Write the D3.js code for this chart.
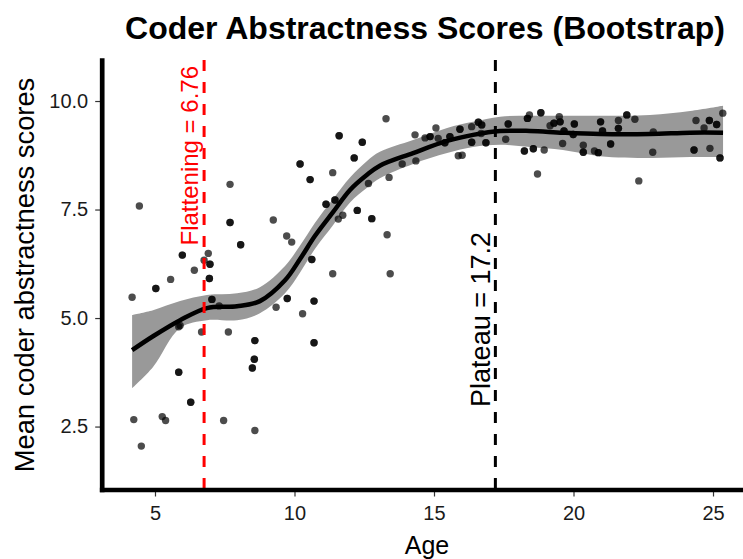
<!DOCTYPE html>
<html>
<head>
<meta charset="utf-8">
<script src="https://cdn.jsdelivr.net/npm/d3@7"></script>
<style>
  body { margin: 0; background: #fff; }
  text { font-family: "Liberation Sans", Arial, Helvetica, sans-serif; }
</style>
</head>
<body>
<div id="chart"></div>
<script>
// observed points (age, mean score); weight 2 = bootstrap duplicate drawn twice
const ages = [4.44, 7.69, 10.20, 10.56, 7.69, 8.07, 9.24, 9.72, 9.90, 10.62, 5.98, 6.91, 6.76, 6.97, 6.41, 5.56, 6.95, 5.03, 4.18, 7.04,
  7.30, 5.90, 5.85, 6.67, 7.63, 8.58, 8.56, 8.49, 5.85, 6.28, 4.24, 5.26, 5.38, 7.46, 8.58, 4.51, 9.34, 9.74, 10.29, 10.70,
  10.70, 13.28, 11.60, 12.43, 12.14, 11.37, 11.13, 11.45, 11.73, 11.57, 12.25, 12.77, 12.65, 13.39, 13.32, 13.43, 11.37, 13.86, 14.35, 14.32,
  14.68, 14.86, 15.07, 15.15, 15.57, 15.39, 15.93, 15.87, 16.01, 16.35, 16.59, 16.71, 16.35, 16.86, 16.69, 17.57, 17.66, 18.42, 18.35, 18.83,
  18.24, 18.56, 18.95, 18.71, 19.16, 19.30, 19.49, 19.52, 19.66, 19.61, 20.03, 19.99, 20.35, 20.35, 20.75, 20.89, 20.97, 21.04, 21.33, 21.61,
  21.61, 21.91, 22.20, 22.34, 22.86, 22.84, 24.32, 24.39, 24.68, 24.87, 25.13, 24.89, 25.35, 25.25];
const scores = [7.58, 8.08, 8.55, 8.19, 7.20, 6.69, 7.26, 6.89, 6.75, 6.35, 6.45, 6.49, 6.33, 6.24, 6.10, 5.89, 5.91, 5.68, 5.48, 5.43,
  5.28, 4.83, 4.80, 4.68, 4.68, 4.48, 4.05, 3.85, 3.75, 3.06, 2.66, 2.73, 2.64, 2.64, 2.41, 2.05, 5.25, 5.45, 5.10, 5.39,
  4.43, 9.59, 9.20, 9.05, 8.69, 8.35, 7.62, 7.72, 7.37, 7.28, 7.48, 7.29, 8.10, 8.24, 6.92, 6.02, 6.02, 8.55, 8.62, 9.22,
  9.15, 9.18, 9.38, 9.14, 9.18, 9.04, 9.35, 8.74, 8.75, 9.41, 9.51, 9.45, 9.05, 9.04, 9.25, 9.12, 9.47, 9.68, 9.60, 9.73,
  8.85, 8.90, 8.87, 8.32, 9.43, 9.49, 9.64, 9.52, 9.31, 9.02, 9.47, 9.23, 8.98, 8.82, 8.85, 8.81, 9.52, 9.31, 9.01, 9.55,
  9.37, 9.68, 9.58, 8.16, 9.29, 8.82, 8.87, 9.55, 9.38, 9.55, 9.46, 8.91, 9.72, 8.69];
const weights = [1, 1, 2, 2, 2, 2, 1, 1, 1, 2, 2, 1, 1, 2, 1, 1, 2, 2, 1, 2,
  1, 1, 1, 1, 1, 2, 2, 2, 2, 2, 1, 1, 1, 1, 1, 1, 1, 2, 1, 2,
  2, 1, 2, 2, 2, 1, 2, 2, 1, 1, 2, 2, 1, 1, 1, 1, 1, 1, 1, 1,
  1, 2, 1, 1, 2, 2, 2, 1, 1, 1, 2, 2, 2, 2, 1, 1, 2, 1, 2, 2,
  2, 2, 1, 1, 1, 2, 1, 2, 2, 1, 2, 2, 1, 2, 1, 2, 2, 2, 2, 1,
  2, 2, 1, 1, 1, 1, 2, 1, 1, 2, 2, 1, 1, 2];

// smoothed fit and its confidence band
const fitAge = [4.18, 4.93, 5.90, 6.86, 7.94, 8.76, 9.66, 10.20, 10.73, 11.38, 11.99, 12.60, 13.06, 14.25, 15.47, 16.40, 17.37, 18.44, 19.62, 20.95, 22.74, 24.18, 25.36];
const fitMean = [4.26, 4.58, 4.95, 5.23, 5.27, 5.39, 5.87, 6.36, 6.89, 7.44, 7.95, 8.30, 8.51, 8.80, 9.08, 9.22, 9.31, 9.31, 9.27, 9.24, 9.24, 9.27, 9.27];
const fitLower = [3.38, 3.87, 4.77, 4.95, 4.95, 5.11, 5.57, 6.05, 6.59, 7.14, 7.66, 8.00, 8.22, 8.55, 8.80, 8.94, 8.99, 8.94, 8.87, 8.73, 8.69, 8.71, 8.71];
const fitUpper = [5.07, 5.18, 5.39, 5.53, 5.57, 5.71, 6.20, 6.67, 7.19, 7.74, 8.24, 8.62, 8.83, 9.10, 9.38, 9.52, 9.64, 9.66, 9.66, 9.66, 9.68, 9.77, 9.89];

const xTicks = [5, 10, 15, 20, 25];
const yTicks = [2.5, 5.0, 7.5, 10.0];
const flattening = 6.76;
const plateau = 17.2;

const width = 743, height = 559;

const svg = d3.select("#chart")
    .append("svg")
    .attr("width", width)
    .attr("height", height);

const x = d3.scaleLinear().domain([3.09, 26.075]).range([101.7, 743]);
const y = d3.scaleLinear().domain([1.05, 10.945]).range([489.5, 60]);

const fit = fitAge.map((a, i) => ({age: a, mean: fitMean[i], lo: fitLower[i], hi: fitUpper[i]}));

// confidence band
svg.append("path")
    .datum(fit)
    .attr("fill", "#999999")
    .attr("d", d3.area()
        .x(d => x(d.age))
        .y0(d => y(d.lo))
        .y1(d => y(d.hi))
        .curve(d3.curveCatmullRom.alpha(0.5)));

// points, duplicates stacked so they look darker
const pts = [];
ages.forEach((a, i) => {
    for (let k = 0; k < weights[i]; k++) pts.push({age: a, score: scores[i]});
});
svg.append("g")
    .selectAll("circle")
    .data(pts)
    .join("circle")
    .attr("cx", d => x(d.age))
    .attr("cy", d => y(d.score))
    .attr("r", 3.7)
    .attr("fill", "#000")
    .attr("fill-opacity", 0.7);

// fitted line
svg.append("path")
    .datum(fit)
    .attr("fill", "none")
    .attr("stroke", "#000")
    .attr("stroke-width", 4.5)
    .attr("d", d3.line()
        .x(d => x(d.age))
        .y(d => y(d.mean))
        .curve(d3.curveCatmullRom.alpha(0.5)));

// reference lines
svg.append("line")
    .attr("x1", x(flattening)).attr("x2", x(flattening))
    .attr("y1", y(10.945)).attr("y2", y(1.05))
    .attr("stroke", "#ff0000")
    .attr("stroke-width", 3)
    .attr("stroke-dasharray", "11,11");
svg.append("line")
    .attr("x1", x(plateau)).attr("x2", x(plateau))
    .attr("y1", y(10.945)).attr("y2", y(1.05))
    .attr("stroke", "#000")
    .attr("stroke-width", 3)
    .attr("stroke-dasharray", "11,11");

svg.append("text")
    .attr("transform", `translate(${x(flattening) - 6},66) rotate(-90)`)
    .attr("text-anchor", "end")
    .attr("fill", "#ff0000")
    .style("font-size", "24px")
    .text("Flattening = " + flattening);
svg.append("text")
    .attr("transform", `translate(${x(plateau) - 5},232) rotate(-90)`)
    .attr("text-anchor", "end")
    .attr("fill", "#000")
    .style("font-size", "27px")
    .text("Plateau = " + plateau);

// axes
const xAxis = svg.append("g")
    .attr("transform", "translate(0,489.5)")
    .call(d3.axisBottom(x).tickValues(xTicks).tickSize(7).tickSizeOuter(0).tickPadding(9));
const yAxis = svg.append("g")
    .attr("transform", "translate(101.7,0)")
    .call(d3.axisLeft(y).tickValues(yTicks).tickFormat(d3.format(".1f")).tickSize(6.5).tickSizeOuter(0).tickPadding(7));

[xAxis, yAxis].forEach(g => {
    g.select(".domain")
        .attr("stroke", "#000")
        .attr("stroke-width", 4.7)
        .attr("stroke-linecap", "square");
    g.selectAll(".tick line").attr("stroke", "#333").attr("stroke-width", 1.2);
    g.selectAll(".tick text")
        .attr("fill", "#1a1a1a")
        .style("font-size", "20px")
        .style("font-family", '"Liberation Sans", Arial, sans-serif');
});
// keep the ticks behind the thick axis lines
xAxis.select(".domain").raise();
yAxis.select(".domain").raise();

// titles
svg.append("text")
    .attr("x", 425)
    .attr("y", 39)
    .attr("text-anchor", "middle")
    .style("font-size", "32px")
    .style("font-weight", "bold")
    .text("Coder Abstractness Scores (Bootstrap)");

svg.append("text")
    .attr("x", 427)
    .attr("y", 554)
    .attr("text-anchor", "middle")
    .style("font-size", "25px")
    .text("Age");

svg.append("text")
    .attr("transform", "translate(34,275) rotate(-90)")
    .attr("text-anchor", "middle")
    .style("font-size", "27.3px")
    .text("Mean coder abstractness scores");
</script>
</body>
</html>
